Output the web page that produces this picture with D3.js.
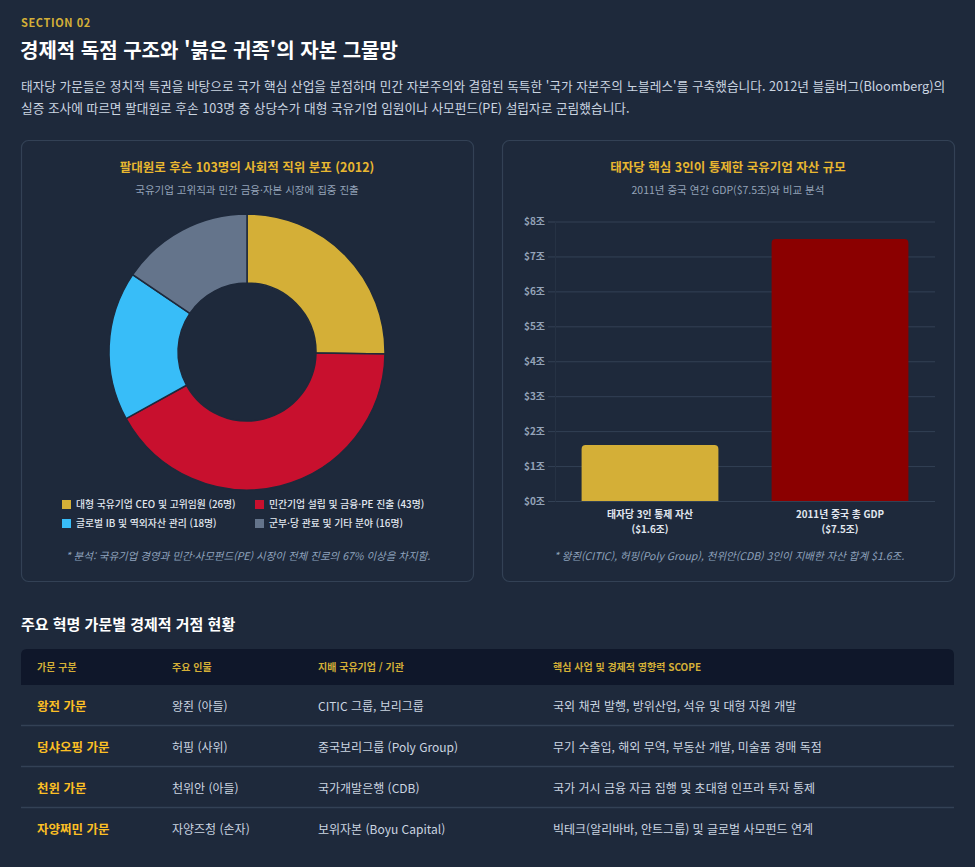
<!DOCTYPE html>
<html lang="ko">
<head>
<meta charset="utf-8">
<script src="https://cdn.jsdelivr.net/npm/d3@7"></script>
<style>
  html, body { margin: 0; padding: 0; background: #1e293b; }
  body { width: 975px; height: 867px; overflow: hidden; }
  svg text { font-family: "Noto Sans CJK KR", "Noto Sans", sans-serif; }
</style>
</head>
<body>
<svg id="page" width="975" height="867"></svg>
<script>
// ---- data ----
const introLines = [
  "태자당 가문들은 정치적 특권을 바탕으로 국가 핵심 산업을 분점하며 민간 자본주의와 결합된 독특한 '국가 자본주의 노블레스'를 구축했습니다. 2012년 블룸버그(Bloomberg)의",
  "실증 조사에 따르면 팔대원로 후손 103명 중 상당수가 대형 국유기업 임원이나 사모펀드(PE) 설립자로 군림했습니다."
];

const careerLabels = [
  "대형 국유기업 CEO 및 고위임원 (26명)",
  "민간기업 설립 및 금융·PE 진출 (43명)",
  "글로벌 IB 및 역외자산 관리 (18명)",
  "군부·당 관료 및 기타 분야 (16명)"
];
const careerCounts = [26, 43, 18, 16];
const careerColors = ["#d4af37", "#c8102e", "#38bdf8", "#64748b"];

const assetNames = ["태자당 3인 통제 자산", "2011년 중국 총 GDP"];
const assetNotes = ["($1.6조)", "($7.5조)"];
const assetValues = [1.6, 7.5];
const assetColors = ["#d4af37", "#8b0000"];
const assetTicks = [0, 1, 2, 3, 4, 5, 6, 7, 8];

const tableHeaders = ["가문 구분", "주요 인물", "지배 국유기업 / 기관", "핵심 사업 및 경제적 영향력 SCOPE"];
const tableRows = [
  ["왕전 가문", "왕쥔 (아들)", "CITIC 그룹, 보리그룹", "국외 채권 발행, 방위산업, 석유 및 대형 자원 개발"],
  ["덩샤오핑 가문", "허핑 (사위)", "중국보리그룹 (Poly Group)", "무기 수출입, 해외 무역, 부동산 개발, 미술품 경매 독점"],
  ["천윈 가문", "천위안 (아들)", "국가개발은행 (CDB)", "국가 거시 금융 자금 집행 및 초대형 인프라 투자 통제"],
  ["자양쩌민 가문", "자양즈청 (손자)", "보위자본 (Boyu Capital)", "빅테크(알리바바, 안트그룹) 및 글로벌 사모펀드 연계"]
];

// ---- page ----
const svg = d3.select("#page");
svg.append("rect").attr("width", 975).attr("height", 867).attr("fill", "#1e293b");

svg.append("text").attr("x", 21).attr("y", 27)
  .attr("fill", "#d4af37").attr("font-size", 11).attr("font-weight", 700)
  .attr("letter-spacing", 0.6).text("SECTION 02");

svg.append("text").attr("x", 20).attr("y", 58)
  .attr("fill", "#ffffff").attr("font-size", 20).attr("font-weight", 700)
  .text("경제적 독점 구조와 '붉은 귀족'의 자본 그물망");

svg.selectAll("text.intro").data(introLines).join("text")
  .attr("class", "intro")
  .attr("x", 21).attr("y", (d, i) => 90.5 + i * 22)
  .attr("fill", "#cbd5e1").attr("font-size", 12.7)
  .text(d => d);

// cards
const cards = [{ x: 21, title: "팔대원로 후손 103명의 사회적 직위 분포 (2012)", sub: "국유기업 고위직과 민간 금융·자본 시장에 집중 진출",
                 note: "* 분석: 국유기업 경영과 민간·사모펀드(PE) 시장이 전체 진로의 67% 이상을 차지함." },
               { x: 502, title: "태자당 핵심 3인이 통제한 국유기업 자산 규모", sub: "2011년 중국 연간 GDP($7.5조)와 비교 분석",
                 note: "* 왕쥔(CITIC), 허핑(Poly Group), 천위안(CDB) 3인이 지배한 자산 합계 $1.6조." }];
const cardW = 452, cardY = 140, cardH = 441;

cards.forEach(c => {
  const g = svg.append("g");
  g.append("rect").attr("x", c.x + 0.5).attr("y", cardY + 0.5)
    .attr("width", cardW).attr("height", cardH).attr("rx", 7)
    .attr("fill", "#1e293b").attr("stroke", "#334155").attr("stroke-width", 1.2);
  g.append("text").attr("x", c.x + cardW / 2).attr("y", 168).attr("dy", "0.35em")
    .attr("text-anchor", "middle").attr("fill", "#e8b730")
    .attr("font-size", 12.5).attr("font-weight", 700).text(c.title);
  g.append("text").attr("x", c.x + cardW / 2).attr("y", 190).attr("dy", "0.35em")
    .attr("text-anchor", "middle").attr("fill", "#94a3b8")
    .attr("font-size", 10.5).text(c.sub);
  g.append("text").attr("x", c.x + cardW / 2 + 1).attr("y", 556).attr("dy", "0.35em")
    .attr("text-anchor", "middle").attr("fill", "#8fa3bd")
    .attr("font-size", 10.5).attr("font-style", "italic").text(c.note);
});

// ---- donut ----
const cx = 247, cy = 352, outerR = 138, innerR = 69;
const pie = d3.pie().sort(null).value(d => d);
const arc = d3.arc().innerRadius(innerR).outerRadius(outerR);
svg.append("g").attr("transform", `translate(${cx},${cy})`)
  .selectAll("path").data(pie(careerCounts)).join("path")
  .attr("d", arc)
  .attr("fill", (d, i) => careerColors[i])
  .attr("stroke", "#1e293b").attr("stroke-width", 1.5);

// legend: 2 x 2 grid
const legendPos = [
  { bx: 62, by: 500 },
  { bx: 255, by: 500 },
  { bx: 62, by: 519 },
  { bx: 255, by: 519 }
];
const legend = svg.append("g");
careerLabels.forEach((label, i) => {
  const p = legendPos[i];
  legend.append("rect").attr("x", p.bx).attr("y", p.by)
    .attr("width", 9).attr("height", 9).attr("fill", careerColors[i]);
  legend.append("text").attr("x", p.bx + 14).attr("y", p.by + 4.5).attr("dy", "0.35em")
    .attr("fill", "#e2e8f0").attr("font-size", 9.8).attr("font-weight", 500)
    .text(label);
});

// ---- bar chart ----
const plotL = 555, plotR = 935, plotT = 221.5, plotB = 501;
const x = d3.scaleBand().domain(assetNames).range([plotL, plotR]).paddingInner(0.28).paddingOuter(0.14);
const y = d3.scaleLinear().domain([0, 8]).range([plotB, plotT]);

const bar = svg.append("g");
bar.append("g").attr("transform", `translate(${plotL},0)`)
  .call(d3.axisLeft(y).tickValues(assetTicks).tickSize(-(plotR - plotL)).tickFormat(""))
  .call(g => g.select(".domain").remove())
  .call(g => g.selectAll("line").attr("stroke", "#334155").attr("stroke-width", 1));

bar.append("g").attr("transform", `translate(${plotL},0)`)
  .call(d3.axisLeft(y).tickValues(assetTicks).tickSize(7).tickPadding(3).tickFormat(d => `$${d}조`))
  .call(g => g.select(".domain").attr("stroke", "#263244"))
  .call(g => g.selectAll("line").attr("stroke", "#334155"))
  .call(g => g.selectAll("text").attr("fill", "#94a3b8").attr("font-size", 10)
    .attr("font-weight", 600).attr("font-family", '"Noto Sans CJK KR", sans-serif'));

function topRounded(x0, y0, w, h, r) {
  r = Math.min(r, h);
  return `M${x0},${y0 + h}V${y0 + r}Q${x0},${y0} ${x0 + r},${y0}H${x0 + w - r}Q${x0 + w},${y0} ${x0 + w},${y0 + r}V${y0 + h}Z`;
}
bar.selectAll("path.bar").data(assetValues).join("path")
  .attr("class", "bar")
  .attr("d", (d, i) => topRounded(x(assetNames[i]), y(d), x.bandwidth(), y(0) - y(d), 4))
  .attr("fill", (d, i) => assetColors[i]);

// category labels, two lines each
[assetNames, assetNotes].forEach((labels, j) => {
  bar.selectAll(`text.xlab${j}`).data(labels).join("text")
    .attr("class", `xlab${j}`)
    .attr("x", (d, i) => x(assetNames[i]) + x.bandwidth() / 2)
    .attr("y", 515 + j * 14.5).attr("dy", "0.35em")
    .attr("text-anchor", "middle").attr("fill", "#e2e8f0")
    .attr("font-size", 9.8).attr("font-weight", 700)
    .text(d => d);
});

// ---- table ----
svg.append("text").attr("x", 21).attr("y", 625).attr("dy", "0.35em")
  .attr("fill", "#ffffff").attr("font-size", 15).attr("font-weight", 700)
  .text("주요 혁명 가문별 경제적 거점 현황");

const colX = [37, 172, 318, 553];
const tX = 21, tW = 933, headT = 649, headH = 36, rowH = 41;
svg.append("path")
  .attr("d", `M${tX},${headT + headH}V${headT + 6}Q${tX},${headT} ${tX + 6},${headT}H${tX + tW - 6}Q${tX + tW},${headT} ${tX + tW},${headT + 6}V${headT + headH}Z`)
  .attr("fill", "#0f172a");
svg.selectAll("text.th").data(tableHeaders).join("text")
  .attr("class", "th").attr("x", (d, i) => colX[i]).attr("y", headT + headH / 2).attr("dy", "0.35em")
  .attr("fill", "#d4af37").attr("font-size", 10).attr("font-weight", 700)
  .text(d => d);

const rows = svg.selectAll("g.tr").data(tableRows).join("g").attr("class", "tr")
  .attr("transform", (d, i) => `translate(0,${headT + headH + i * rowH})`);
rows.filter((d, i) => i < tableRows.length - 1).append("line")
  .attr("x1", tX).attr("x2", tX + tW).attr("y1", rowH - 0.5).attr("y2", rowH - 0.5)
  .attr("stroke", "#334155").attr("stroke-width", 1.5);
rows.selectAll("text").data(d => d).join("text")
  .attr("x", (d, i) => colX[i]).attr("y", rowH / 2 + 1).attr("dy", "0.35em")
  .attr("fill", (d, i) => i === 0 ? "#fbbf24" : "#cbd5e1")
  .attr("font-size", (d, i) => i === 0 ? 12.5 : 12)
  .attr("font-weight", (d, i) => i === 0 ? 700 : 400)
  .text(d => d);
</script>
</body>
</html>
